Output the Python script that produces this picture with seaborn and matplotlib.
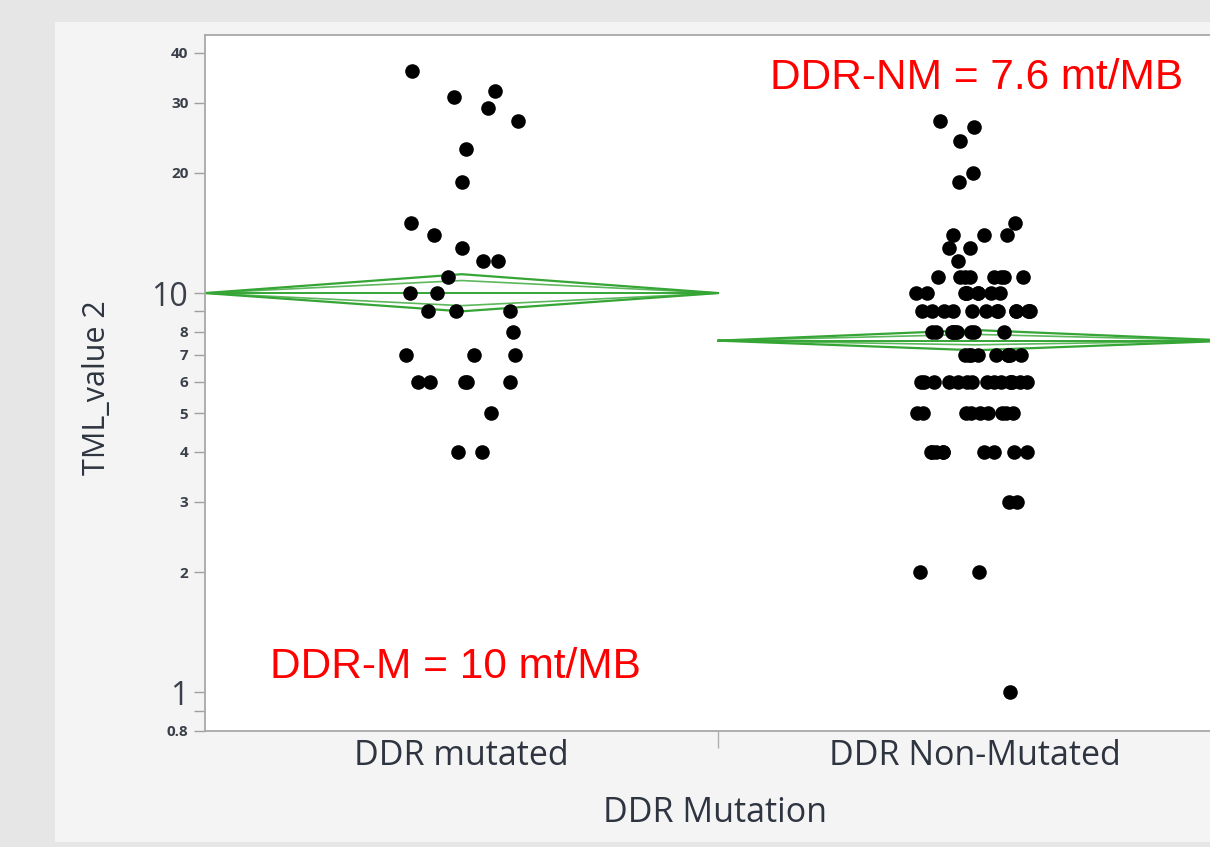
import numpy as np
import pandas as pd
import seaborn as sns
import matplotlib.pyplot as plt
from matplotlib.patches import Rectangle

# ---------------- data ----------------
categories = ["DDR mutated", "DDR Non-Mutated"]

ddr_mutated_tml = [36, 32, 31, 29, 27, 23, 19, 15, 14, 13, 12, 12, 11, 10, 10,
                   9, 9, 9, 8, 7, 7, 7, 6, 6, 6, 6, 6, 5, 4, 4]

ddr_nonmutated_tml = [27, 26, 24, 20, 19, 15, 14, 14, 14, 13, 13, 12,
                      11, 11, 11, 11, 11, 11, 11, 11,
                      10, 10, 10, 10, 10, 10, 10, 10, 10,
                      9, 9, 9, 9, 9, 9, 9, 9, 9, 9, 9, 9, 9,
                      8, 8, 8, 8, 8, 8, 8, 8, 8,
                      7, 7, 7, 7, 7, 7, 7, 7, 7,
                      6, 6, 6, 6, 6, 6, 6, 6, 6, 6, 6, 6, 6, 6, 6,
                      5, 5, 5, 5, 5, 5, 5, 5, 5,
                      4, 4, 4, 4, 4, 4, 4, 4, 4,
                      3, 3, 2, 2, 1]

# means diamonds
diamond_center = [10.0, 7.6]
diamond_upper = [11.15, 8.08]
diamond_lower = [9.0, 7.19]
diamond_inner_upper = [10.75, 7.88]
diamond_inner_lower = [9.3, 7.42]

ytick_values = [0.8, 1, 2, 3, 4, 5, 6, 7, 8, 10, 20, 30, 40]
ytick_labels = ["0.8", "1", "2", "3", "4", "5", "6", "7", "8", "10", "20", "30", "40"]
ytick_minor = [0.9, 9]
big_labels = ["1", "10"]

annot_nm = "DDR-NM = 7.6 mt/MB"
annot_m = "DDR-M = 10 mt/MB"

df = pd.DataFrame({
    "DDR Mutation": [categories[0]] * len(ddr_mutated_tml) + [categories[1]] * len(ddr_nonmutated_tml),
    "TML_value 2": ddr_mutated_tml + ddr_nonmutated_tml,
})

# ---------------- figure ----------------
W, H = 1210, 847
fig = plt.figure(figsize=(W / 100, H / 100), dpi=100)
fig.patch.set_facecolor("#e6e6e6")
fig.patches.append(Rectangle((55 / W, 1 - 842 / H), 1 - 55 / W, (842 - 22) / H,
                             transform=fig.transFigure, facecolor="#f4f4f4",
                             edgecolor="none", zorder=-10))

ax_left, ax_right, ax_top, ax_bot = 205, 1232, 35, 731
ax = fig.add_axes([ax_left / W, 1 - ax_bot / H, (ax_right - ax_left) / W, (ax_bot - ax_top) / H])
ax.set_zorder(5)
ax.set_facecolor("white")

np.random.seed(7)
sns.stripplot(data=df, x="DDR Mutation", y="TML_value 2", order=categories,
              color="black", size=10.5, jitter=0.115, linewidth=0, ax=ax, zorder=3)
ax.set_yscale("log")
ax.set_ylim(0.8, 44.3)
ax.set_xlim(-0.5, 1.5)

# means diamonds
green = "#35a535"
for i in range(len(categories)):
    xs = [i - 0.5, i, i + 0.5, i, i - 0.5]
    ax.plot(xs, [diamond_center[i], diamond_upper[i], diamond_center[i], diamond_lower[i], diamond_center[i]],
            color=green, lw=1.6, zorder=2, solid_joinstyle="miter")
    ax.plot(xs, [diamond_center[i], diamond_inner_upper[i], diamond_center[i], diamond_inner_lower[i], diamond_center[i]],
            color=green, lw=1.2, alpha=0.8, zorder=2)
    ax.plot([i - 0.5, i + 0.5], [diamond_center[i], diamond_center[i]], color=green, lw=1.4, zorder=2)

# y axis ticks
ax.yaxis.set_major_locator(plt.FixedLocator(ytick_values))
ax.yaxis.set_minor_locator(plt.FixedLocator(ytick_minor))
ax.yaxis.set_minor_formatter(plt.NullFormatter())
ax.set_yticklabels(ytick_labels)
for lab in ax.get_yticklabels():
    if lab.get_text() in big_labels:
        lab.set_fontsize(23)
        lab.set_fontfamily("Open Sans")
    else:
        lab.set_fontsize(11)
        lab.set_fontfamily("Open Sans")
        lab.set_fontweight("bold")
    lab.set_color("#3a3f4a")
ax.tick_params(axis="y", which="both", direction="out", length=8, width=1, color="#a0a0a0", pad=4)

# x axis ticks
ax.set_xticks([0, 1])
ax.set_xticklabels(categories, fontsize=24.5, fontfamily="Open Sans", color="#2e3440")
ax.set_xticks([0.5], minor=True)
ax.tick_params(axis="x", which="major", length=0, pad=6)
ax.tick_params(axis="x", which="minor", length=12, width=1, color="#b0b0b0")
ax.set_xlabel("")
ax.set_ylabel("")

for s in ["left", "bottom", "top", "right"]:
    ax.spines[s].set_color("#a8a8a8")
    ax.spines[s].set_linewidth(1.3)
ax.grid(False)

fig.text(97 / W, 1 - 388 / H, "TML_value 2", rotation=90, ha="center", va="center",
         fontsize=22, fontfamily="Open Sans", color="#2e3440", zorder=10)
fig.text(715 / W, 1 - 813 / H, "DDR Mutation", ha="center", va="center",
         fontsize=24.5, fontfamily="Open Sans", color="#2e3440", zorder=10)

fig.text(770 / W, 1 - 78 / H, annot_nm, ha="left", va="center", fontsize=30.5,
         fontfamily="Liberation Sans", color="#ff0000", zorder=10)
fig.text(270 / W, 1 - 667 / H, annot_m, ha="left", va="center", fontsize=30.5,
         fontfamily="Liberation Sans", color="#ff0000", zorder=10)

fig.savefig("out.png", dpi=100, facecolor=fig.get_facecolor())
